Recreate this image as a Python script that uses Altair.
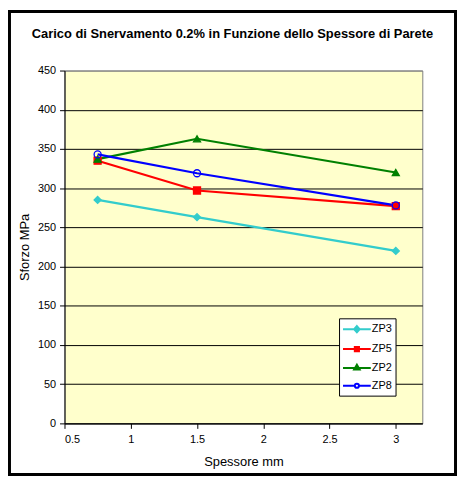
import altair as alt
import pandas as pd

# ---- data ----
series_names = ["ZP3", "ZP5", "ZP2", "ZP8"]
spessore = [0.75, 1.5, 3.0]
zp3 = [285, 263, 220]
zp5 = [335, 297, 277]
zp2 = [337, 363, 320]
zp8 = [343, 319, 278]
x_ticks = [0.5, 1, 1.5, 2, 2.5, 3]
y_ticks = [0, 50, 100, 150, 200, 250, 300, 350, 400, 450]

# ---- styles ----
colors = ["#33CCCC", "#FF0000", "#008000", "#0000FF"]
fills = ["#33CCCC", "#FF0000", "#008000", "transparent"]
marker_shapes = ["diamond", "square", "triangle-up", "circle"]
marker_sizes = [50, 50, 64, 60]
legend_shapes = [
    "M-1,0H3M1,-0.45L1.4,0L1,0.45L0.6,0Z",
    "M-1,0H3M0.7,-0.3H1.3V0.3H0.7Z",
    "M-1,0H3M1,-0.45L1.4,0.25L0.6,0.25Z",
    "M-1,0H0.7M1.3,0H3M0.7,0A0.3,0.3 0 1,0 1.3,0A0.3,0.3 0 1,0 0.7,0Z",
]

rows = []
for name, vals in zip(series_names, [zp3, zp5, zp2, zp8]):
    for xv, yv in zip(spessore, vals):
        rows.append({"serie": name, "spessore": xv, "sforzo": yv})
df = pd.DataFrame(rows)

FONT = "Liberation Sans"
W, H = 361, 356

x_enc = alt.X(
    "spessore:Q",
    scale=alt.Scale(domain=[0.5, 3.2], nice=False, zero=False),
    axis=alt.Axis(values=x_ticks, format="~g", title="Spessore mm", grid=False,
                  labelPadding=5, titlePadding=11),
)
y_enc = alt.Y(
    "sforzo:Q",
    scale=alt.Scale(domain=[0, 450], nice=False),
    axis=alt.Axis(values=y_ticks, title="Sforzo MPa", grid=True,
                  gridColor={"condition": {"test": "datum.value >= 450", "value": "#808080"},
                             "value": "black"},
                  gridWidth=1, labelPadding=4, titlePadding=6),
)

stroke_scale = alt.Scale(domain=series_names, range=colors)
fill_scale = alt.Scale(domain=series_names, range=fills)

base = alt.Chart(df)

lines = base.mark_line(strokeWidth=2.2).encode(
    x=x_enc, y=y_enc,
    stroke=alt.Stroke("serie:N", scale=stroke_scale, legend=None),
)

points = base.mark_point(filled=False, opacity=1, strokeWidth=1.3).encode(
    x=x_enc, y=y_enc,
    stroke=alt.Stroke("serie:N", scale=stroke_scale, legend=None),
    fill=alt.Fill("serie:N", scale=fill_scale, legend=None),
    shape=alt.Shape("serie:N", scale=alt.Scale(domain=series_names, range=marker_shapes), legend=None),
    size=alt.Size("serie:N", scale=alt.Scale(domain=series_names, range=marker_sizes), legend=None),
)

leg = alt.Legend(
    title=None, orient="none", legendX=277, legendY=250, padding=3, rowPadding=4,
    strokeColor="black", fillColor="white", symbolSize=196, symbolStrokeWidth=2,
    symbolOpacity=1, labelFont=FONT, labelFontSize=11, labelColor="black",
    labelOffset=14, cornerRadius=0,
)

legend_layer = base.mark_point(filled=False, opacity=0).encode(
    x=x_enc, y=y_enc,
    stroke=alt.Stroke("serie:N", scale=stroke_scale, legend=leg),
    fill=alt.Fill("serie:N", scale=fill_scale, legend=leg),
    shape=alt.Shape("serie:N", scale=alt.Scale(domain=series_names, range=legend_shapes), legend=leg),
)

frame = alt.Chart(pd.DataFrame({"k": [0]})).mark_rect(
    fill="transparent", stroke="black", strokeWidth=3
).encode(
    x=alt.value(-55.5), x2=alt.value(394.5), y=alt.value(-59.5), y2=alt.value(407.5)
)

chart = alt.layer(frame, lines, points, legend_layer).resolve_scale(
    shape="independent", stroke="independent", fill="independent", size="independent"
).properties(
    width=W, height=H, padding=0, background="white",
    title=alt.TitleParams(
        text="Carico di Snervamento 0.2% in Funzione dello Spessore di Parete",
        font=FONT, fontSize=13, fontWeight="bold", color="black",
        anchor="middle", dx=-11, offset=-31,
    ),
).configure_view(
    fill="#FFFFCC", stroke="#808080", strokeWidth=1
).configure_axis(
    domainColor="black", tickColor="black", labelColor="black", titleColor="black",
    labelFont=FONT, titleFont=FONT, labelFontSize=11, titleFontSize=13,
    titleFontWeight="normal", tickSize=5, domainWidth=1, tickWidth=1,
)

chart.save("out.html", embed_options={"renderer": "svg", "actions": False})
